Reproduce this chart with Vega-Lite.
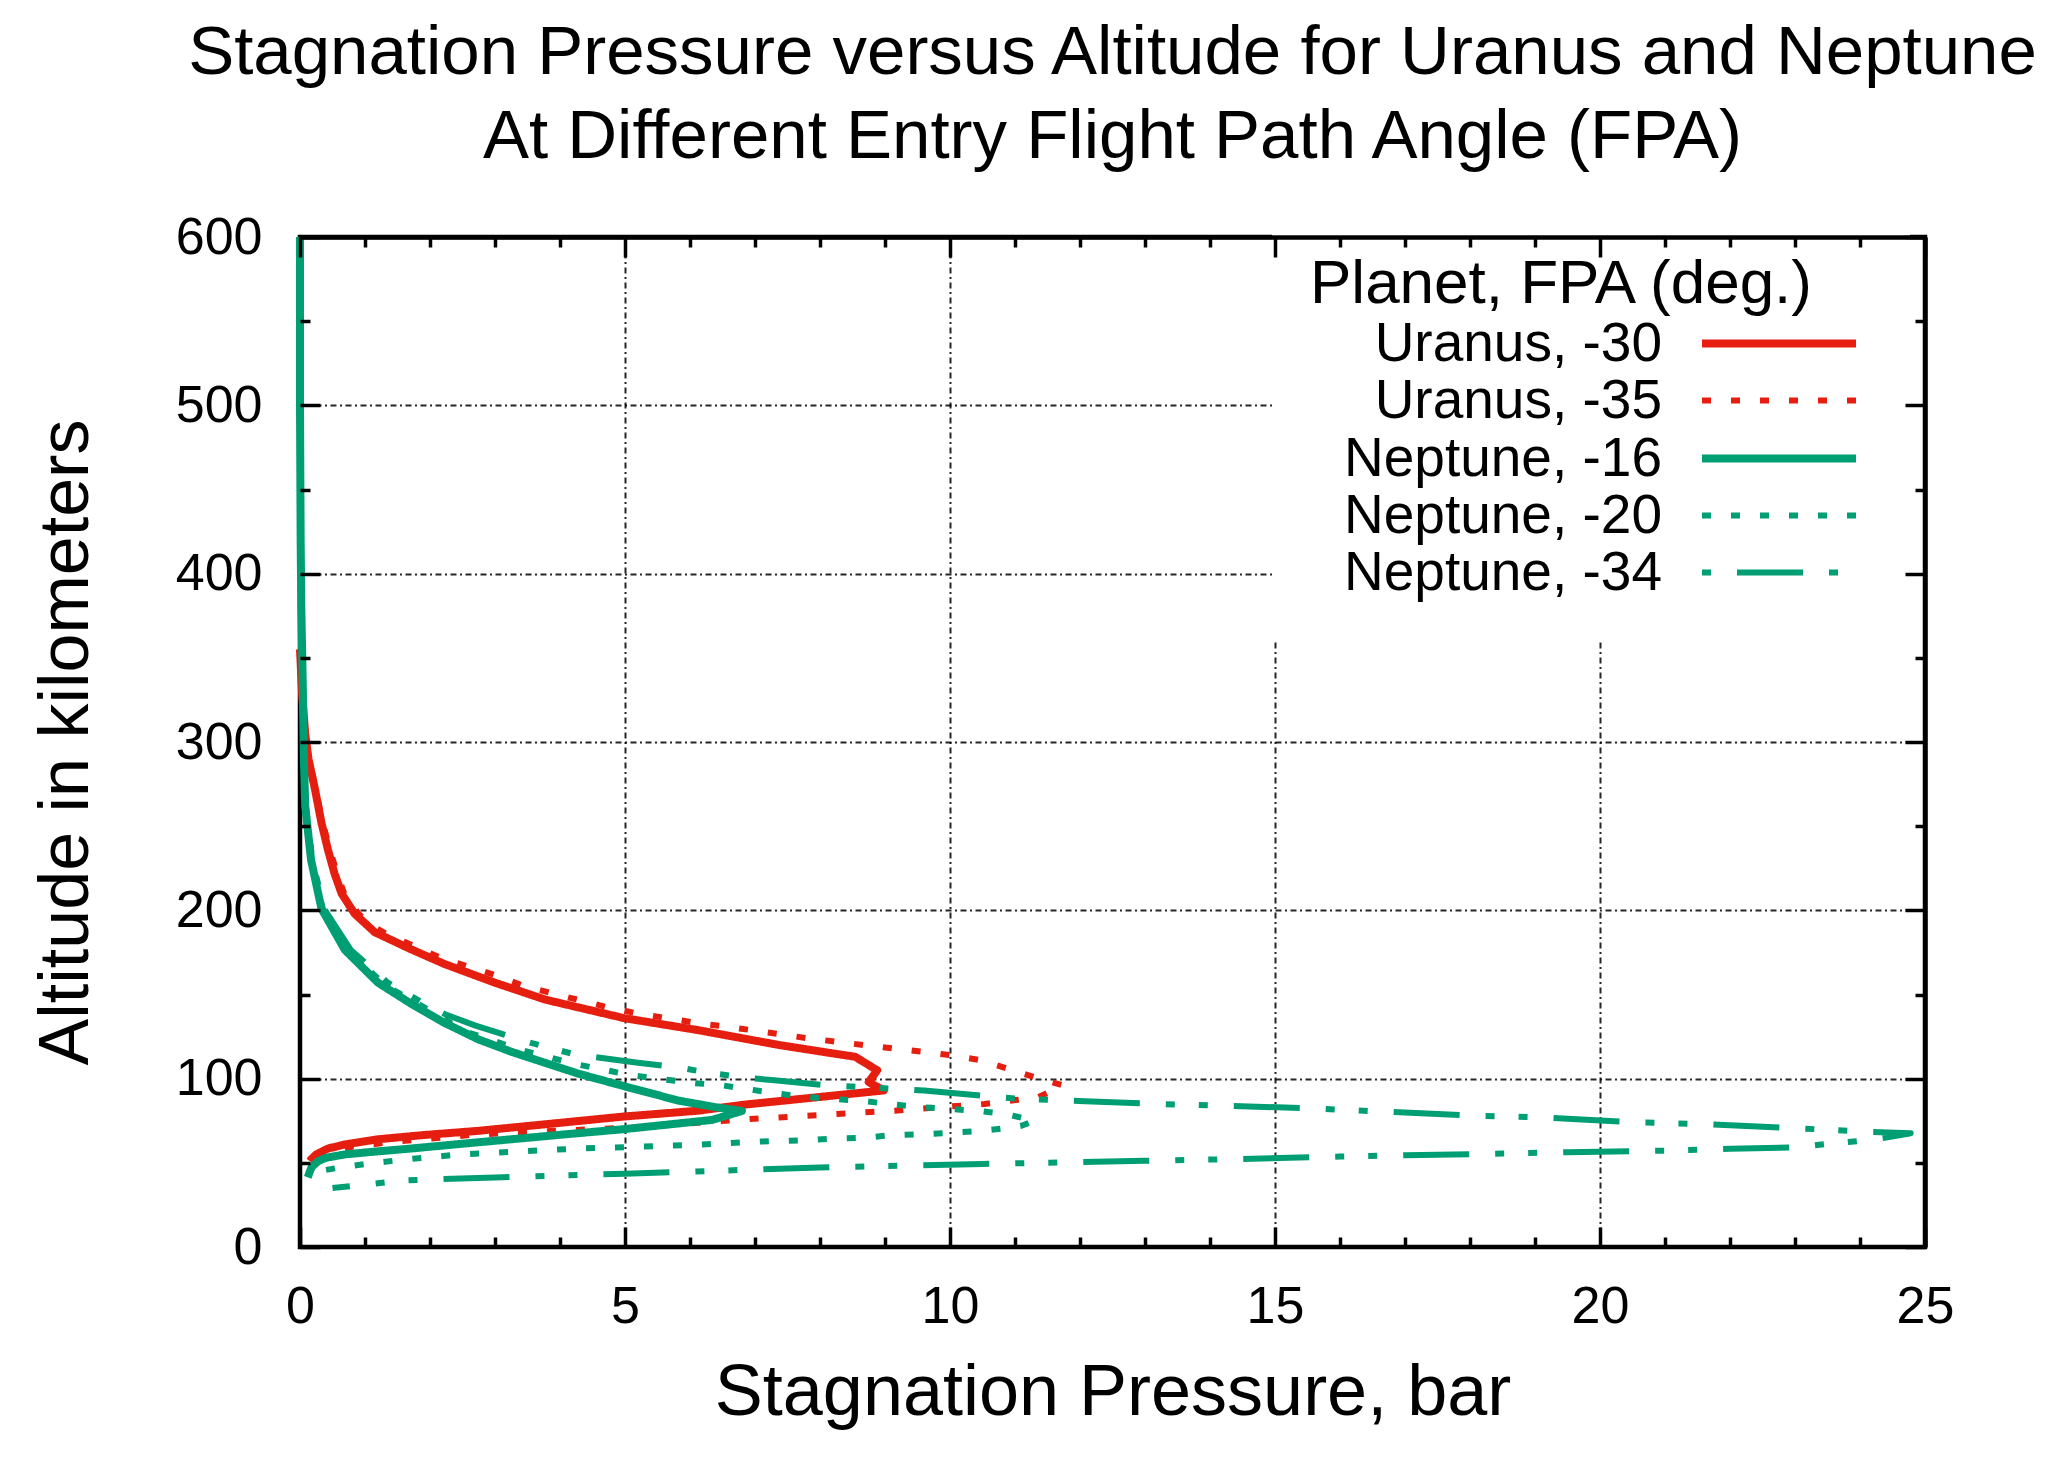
{
  "$schema": "https://vega.github.io/schema/vega-lite/v6.json",
  "width": 1625,
  "height": 1010,
  "autosize": {"type": "none"},
  "padding": {"left": 300, "top": 237, "right": 128, "bottom": 220},
  "background": "white",
  "config": {
    "font": "Liberation Sans",
    "view": {"stroke": "black", "strokeWidth": 4.5},
    "legend": {"zindex": 1}
  },
  "title": {
    "text": ["Stagnation Pressure versus Altitude for Uranus and Neptune", "At Different Entry Flight Path Angle (FPA)"],
    "font": "Liberation Sans",
    "fontSize": 69,
    "fontWeight": "normal",
    "color": "black",
    "anchor": "middle",
    "frame": "group",
    "baseline": "alphabetic",
    "lineHeight": 84,
    "offset": -16
  },
  "data": {
    "values": [
      {"s": "Uranus, -30", "p": 0, "a": 355},
      {"s": "Uranus, -30", "p": 0.03, "a": 330},
      {"s": "Uranus, -30", "p": 0.08, "a": 305},
      {"s": "Uranus, -30", "p": 0.13, "a": 290},
      {"s": "Uranus, -30", "p": 0.23, "a": 272},
      {"s": "Uranus, -30", "p": 0.33, "a": 252},
      {"s": "Uranus, -30", "p": 0.43, "a": 236},
      {"s": "Uranus, -30", "p": 0.53, "a": 222},
      {"s": "Uranus, -30", "p": 0.64, "a": 210},
      {"s": "Uranus, -30", "p": 0.84, "a": 198},
      {"s": "Uranus, -30", "p": 1.15, "a": 187},
      {"s": "Uranus, -30", "p": 1.7, "a": 177},
      {"s": "Uranus, -30", "p": 2.23, "a": 168},
      {"s": "Uranus, -30", "p": 3.0, "a": 157},
      {"s": "Uranus, -30", "p": 3.77, "a": 147},
      {"s": "Uranus, -30", "p": 4.98, "a": 136},
      {"s": "Uranus, -30", "p": 6.13, "a": 128.8},
      {"s": "Uranus, -30", "p": 7.37, "a": 120},
      {"s": "Uranus, -30", "p": 8.2, "a": 115},
      {"s": "Uranus, -30", "p": 8.54, "a": 113},
      {"s": "Uranus, -30", "p": 8.88, "a": 105},
      {"s": "Uranus, -30", "p": 8.75, "a": 98},
      {"s": "Uranus, -30", "p": 8.98, "a": 93},
      {"s": "Uranus, -30", "p": 6.82, "a": 84.5},
      {"s": "Uranus, -30", "p": 6.13, "a": 81},
      {"s": "Uranus, -30", "p": 4.98, "a": 77.5},
      {"s": "Uranus, -30", "p": 3.8, "a": 73},
      {"s": "Uranus, -30", "p": 2.74, "a": 69},
      {"s": "Uranus, -30", "p": 1.9, "a": 66.5},
      {"s": "Uranus, -30", "p": 1.2, "a": 64},
      {"s": "Uranus, -30", "p": 0.7, "a": 61},
      {"s": "Uranus, -30", "p": 0.43, "a": 58.5},
      {"s": "Uranus, -30", "p": 0.25, "a": 55},
      {"s": "Uranus, -30", "p": 0.17, "a": 52},
      {"s": "Uranus, -30", "p": 0.15, "a": 51},

      {"s": "Uranus, -35", "p": 0, "a": 350},
      {"s": "Uranus, -35", "p": 0.03, "a": 330},
      {"s": "Uranus, -35", "p": 0.08, "a": 305},
      {"s": "Uranus, -35", "p": 0.14, "a": 290},
      {"s": "Uranus, -35", "p": 0.24, "a": 272},
      {"s": "Uranus, -35", "p": 0.35, "a": 252},
      {"s": "Uranus, -35", "p": 0.46, "a": 236},
      {"s": "Uranus, -35", "p": 0.57, "a": 222},
      {"s": "Uranus, -35", "p": 0.68, "a": 210},
      {"s": "Uranus, -35", "p": 0.9, "a": 198},
      {"s": "Uranus, -35", "p": 1.1, "a": 191},
      {"s": "Uranus, -35", "p": 1.33, "a": 186},
      {"s": "Uranus, -35", "p": 1.74, "a": 179},
      {"s": "Uranus, -35", "p": 2.15, "a": 172},
      {"s": "Uranus, -35", "p": 2.56, "a": 167},
      {"s": "Uranus, -35", "p": 3.0, "a": 161.6},
      {"s": "Uranus, -35", "p": 3.41, "a": 155.5},
      {"s": "Uranus, -35", "p": 3.85, "a": 151},
      {"s": "Uranus, -35", "p": 4.72, "a": 142.5},
      {"s": "Uranus, -35", "p": 5.16, "a": 139},
      {"s": "Uranus, -35", "p": 6.03, "a": 133.5},
      {"s": "Uranus, -35", "p": 6.92, "a": 129},
      {"s": "Uranus, -35", "p": 7.81, "a": 124},
      {"s": "Uranus, -35", "p": 8.67, "a": 120},
      {"s": "Uranus, -35", "p": 9.57, "a": 116},
      {"s": "Uranus, -35", "p": 10.0, "a": 114},
      {"s": "Uranus, -35", "p": 10.46, "a": 111},
      {"s": "Uranus, -35", "p": 10.88, "a": 106},
      {"s": "Uranus, -35", "p": 11.29, "a": 101},
      {"s": "Uranus, -35", "p": 11.74, "a": 96},
      {"s": "Uranus, -35", "p": 11.36, "a": 89},
      {"s": "Uranus, -35", "p": 10.95, "a": 87},
      {"s": "Uranus, -35", "p": 10.53, "a": 85},
      {"s": "Uranus, -35", "p": 9.15, "a": 81},
      {"s": "Uranus, -35", "p": 8.26, "a": 79},
      {"s": "Uranus, -35", "p": 7.37, "a": 77},
      {"s": "Uranus, -35", "p": 6.92, "a": 76},
      {"s": "Uranus, -35", "p": 6.0, "a": 73.5},
      {"s": "Uranus, -35", "p": 5.13, "a": 71},
      {"s": "Uranus, -35", "p": 3.9, "a": 69},
      {"s": "Uranus, -35", "p": 2.7, "a": 66.8},
      {"s": "Uranus, -35", "p": 1.46, "a": 62.6},
      {"s": "Uranus, -35", "p": 0.8, "a": 59.5},
      {"s": "Uranus, -35", "p": 0.4, "a": 56},
      {"s": "Uranus, -35", "p": 0.2, "a": 53},
      {"s": "Uranus, -35", "p": 0.15, "a": 51},

      {"s": "Neptune, -16", "p": 0, "a": 600},
      {"s": "Neptune, -16", "p": 0.0, "a": 500},
      {"s": "Neptune, -16", "p": 0.01, "a": 420},
      {"s": "Neptune, -16", "p": 0.02, "a": 380},
      {"s": "Neptune, -16", "p": 0.04, "a": 340},
      {"s": "Neptune, -16", "p": 0.06, "a": 290},
      {"s": "Neptune, -16", "p": 0.08, "a": 262},
      {"s": "Neptune, -16", "p": 0.17, "a": 230},
      {"s": "Neptune, -16", "p": 0.33, "a": 201},
      {"s": "Neptune, -16", "p": 0.69, "a": 176.5},
      {"s": "Neptune, -16", "p": 1.2, "a": 157},
      {"s": "Neptune, -16", "p": 1.71, "a": 144.5},
      {"s": "Neptune, -16", "p": 2.23, "a": 133},
      {"s": "Neptune, -16", "p": 2.74, "a": 123.4},
      {"s": "Neptune, -16", "p": 3.25, "a": 116},
      {"s": "Neptune, -16", "p": 3.77, "a": 109.4},
      {"s": "Neptune, -16", "p": 4.28, "a": 103},
      {"s": "Neptune, -16", "p": 4.98, "a": 95.6},
      {"s": "Neptune, -16", "p": 5.82, "a": 87},
      {"s": "Neptune, -16", "p": 6.4, "a": 83},
      {"s": "Neptune, -16", "p": 6.8, "a": 80.8},
      {"s": "Neptune, -16", "p": 6.34, "a": 75.5},
      {"s": "Neptune, -16", "p": 5.6, "a": 72.5},
      {"s": "Neptune, -16", "p": 4.98, "a": 70},
      {"s": "Neptune, -16", "p": 4.1, "a": 67},
      {"s": "Neptune, -16", "p": 3.25, "a": 64},
      {"s": "Neptune, -16", "p": 2.4, "a": 61},
      {"s": "Neptune, -16", "p": 1.71, "a": 58.5},
      {"s": "Neptune, -16", "p": 1.1, "a": 56.5},
      {"s": "Neptune, -16", "p": 0.69, "a": 55},
      {"s": "Neptune, -16", "p": 0.4, "a": 53},
      {"s": "Neptune, -16", "p": 0.28, "a": 51},
      {"s": "Neptune, -16", "p": 0.18, "a": 47.5},
      {"s": "Neptune, -16", "p": 0.15, "a": 44.7},
      {"s": "Neptune, -16", "p": 0.12, "a": 41.4},

      {"s": "Neptune, -20", "p": 0, "a": 600},
      {"s": "Neptune, -20", "p": 0.0, "a": 500},
      {"s": "Neptune, -20", "p": 0.01, "a": 420},
      {"s": "Neptune, -20", "p": 0.02, "a": 380},
      {"s": "Neptune, -20", "p": 0.04, "a": 340},
      {"s": "Neptune, -20", "p": 0.06, "a": 290},
      {"s": "Neptune, -20", "p": 0.085, "a": 262},
      {"s": "Neptune, -20", "p": 0.18, "a": 230},
      {"s": "Neptune, -20", "p": 0.35, "a": 201},
      {"s": "Neptune, -20", "p": 0.72, "a": 176.5},
      {"s": "Neptune, -20", "p": 1.33, "a": 155},
      {"s": "Neptune, -20", "p": 1.77, "a": 145.5},
      {"s": "Neptune, -20", "p": 2.54, "a": 128},
      {"s": "Neptune, -20", "p": 3.41, "a": 117},
      {"s": "Neptune, -20", "p": 4.26, "a": 108.5},
      {"s": "Neptune, -20", "p": 5.1, "a": 102},
      {"s": "Neptune, -20", "p": 6.03, "a": 97.5},
      {"s": "Neptune, -20", "p": 6.5, "a": 96},
      {"s": "Neptune, -20", "p": 6.92, "a": 93.6},
      {"s": "Neptune, -20", "p": 7.37, "a": 91},
      {"s": "Neptune, -20", "p": 7.81, "a": 89},
      {"s": "Neptune, -20", "p": 8.67, "a": 86.7},
      {"s": "Neptune, -20", "p": 9.12, "a": 84.7},
      {"s": "Neptune, -20", "p": 9.57, "a": 83},
      {"s": "Neptune, -20", "p": 10.0, "a": 82},
      {"s": "Neptune, -20", "p": 10.46, "a": 80.8},
      {"s": "Neptune, -20", "p": 10.88, "a": 78.8},
      {"s": "Neptune, -20", "p": 11.3, "a": 75},
      {"s": "Neptune, -20", "p": 11.1, "a": 72},
      {"s": "Neptune, -20", "p": 10.95, "a": 71},
      {"s": "Neptune, -20", "p": 10.5, "a": 69},
      {"s": "Neptune, -20", "p": 10.05, "a": 68},
      {"s": "Neptune, -20", "p": 9.6, "a": 67},
      {"s": "Neptune, -20", "p": 9.1, "a": 66.4},
      {"s": "Neptune, -20", "p": 8.7, "a": 65},
      {"s": "Neptune, -20", "p": 8.25, "a": 64.4},
      {"s": "Neptune, -20", "p": 7.8, "a": 63.5},
      {"s": "Neptune, -20", "p": 7.37, "a": 63},
      {"s": "Neptune, -20", "p": 6.92, "a": 62.4},
      {"s": "Neptune, -20", "p": 6.03, "a": 60.6},
      {"s": "Neptune, -20", "p": 5.16, "a": 59.5},
      {"s": "Neptune, -20", "p": 4.28, "a": 58.5},
      {"s": "Neptune, -20", "p": 3.39, "a": 56.8},
      {"s": "Neptune, -20", "p": 2.46, "a": 55},
      {"s": "Neptune, -20", "p": 1.56, "a": 51.8},
      {"s": "Neptune, -20", "p": 1.12, "a": 49.8},
      {"s": "Neptune, -20", "p": 0.69, "a": 47.7},
      {"s": "Neptune, -20", "p": 0.23, "a": 44.7},
      {"s": "Neptune, -20", "p": 0.15, "a": 41},

      {"s": "Neptune, -34", "p": 0, "a": 600},
      {"s": "Neptune, -34", "p": 0.0, "a": 500},
      {"s": "Neptune, -34", "p": 0.01, "a": 420},
      {"s": "Neptune, -34", "p": 0.02, "a": 380},
      {"s": "Neptune, -34", "p": 0.04, "a": 340},
      {"s": "Neptune, -34", "p": 0.06, "a": 290},
      {"s": "Neptune, -34", "p": 0.09, "a": 262},
      {"s": "Neptune, -34", "p": 0.19, "a": 230},
      {"s": "Neptune, -34", "p": 0.37, "a": 201},
      {"s": "Neptune, -34", "p": 0.78, "a": 176.5},
      {"s": "Neptune, -34", "p": 1.35, "a": 157},
      {"s": "Neptune, -34", "p": 1.85, "a": 146},
      {"s": "Neptune, -34", "p": 2.23, "a": 138.3},
      {"s": "Neptune, -34", "p": 2.7, "a": 131.5},
      {"s": "Neptune, -34", "p": 3.2, "a": 125.4},
      {"s": "Neptune, -34", "p": 3.57, "a": 121.1},
      {"s": "Neptune, -34", "p": 4.2, "a": 114.7},
      {"s": "Neptune, -34", "p": 4.55, "a": 112.7},
      {"s": "Neptune, -34", "p": 5.2, "a": 109.5},
      {"s": "Neptune, -34", "p": 5.9, "a": 106.2},
      {"s": "Neptune, -34", "p": 6.2, "a": 104},
      {"s": "Neptune, -34", "p": 6.75, "a": 101},
      {"s": "Neptune, -34", "p": 7.3, "a": 99},
      {"s": "Neptune, -34", "p": 8.13, "a": 96},
      {"s": "Neptune, -34", "p": 9.12, "a": 94},
      {"s": "Neptune, -34", "p": 9.6, "a": 93},
      {"s": "Neptune, -34", "p": 10.63, "a": 89.4},
      {"s": "Neptune, -34", "p": 11.08, "a": 88},
      {"s": "Neptune, -34", "p": 12.08, "a": 86.6},
      {"s": "Neptune, -34", "p": 13.14, "a": 85},
      {"s": "Neptune, -34", "p": 14.1, "a": 84},
      {"s": "Neptune, -34", "p": 15.5, "a": 82.5},
      {"s": "Neptune, -34", "p": 16.6, "a": 80.5},
      {"s": "Neptune, -34", "p": 18.12, "a": 78},
      {"s": "Neptune, -34", "p": 19.1, "a": 77},
      {"s": "Neptune, -34", "p": 20.6, "a": 74},
      {"s": "Neptune, -34", "p": 21.6, "a": 73},
      {"s": "Neptune, -34", "p": 23.1, "a": 70.4},
      {"s": "Neptune, -34", "p": 24.1, "a": 68.5},
      {"s": "Neptune, -34", "p": 24.78, "a": 67.6},
      {"s": "Neptune, -34", "p": 24.4, "a": 65},
      {"s": "Neptune, -34", "p": 24.0, "a": 63},
      {"s": "Neptune, -34", "p": 23.5, "a": 61.3},
      {"s": "Neptune, -34", "p": 23.0, "a": 59.2},
      {"s": "Neptune, -34", "p": 22.0, "a": 58.3},
      {"s": "Neptune, -34", "p": 21.0, "a": 57.2},
      {"s": "Neptune, -34", "p": 19.5, "a": 56.3},
      {"s": "Neptune, -34", "p": 18.5, "a": 55.5},
      {"s": "Neptune, -34", "p": 17.0, "a": 54.5},
      {"s": "Neptune, -34", "p": 16.0, "a": 53.7},
      {"s": "Neptune, -34", "p": 14.5, "a": 52.3},
      {"s": "Neptune, -34", "p": 13.0, "a": 51.2},
      {"s": "Neptune, -34", "p": 12.0, "a": 50.5},
      {"s": "Neptune, -34", "p": 10.5, "a": 49.3},
      {"s": "Neptune, -34", "p": 9.5, "a": 48.5},
      {"s": "Neptune, -34", "p": 8.0, "a": 47.3},
      {"s": "Neptune, -34", "p": 7.0, "a": 46},
      {"s": "Neptune, -34", "p": 6.0, "a": 44.8},
      {"s": "Neptune, -34", "p": 5.0, "a": 43.5},
      {"s": "Neptune, -34", "p": 4.0, "a": 42.5},
      {"s": "Neptune, -34", "p": 3.0, "a": 41.3},
      {"s": "Neptune, -34", "p": 2.0, "a": 40.2},
      {"s": "Neptune, -34", "p": 1.5, "a": 39.3},
      {"s": "Neptune, -34", "p": 1.05, "a": 37.2},
      {"s": "Neptune, -34", "p": 0.5, "a": 35}
    ]
  },
  "encoding": {
    "color": {
      "field": "s", "type": "nominal", "title": "Planet, FPA (deg.)",
      "scale": {"domain": ["Uranus, -30", "Uranus, -35", "Neptune, -16", "Neptune, -20", "Neptune, -34"],
                "range": ["#e51e10", "#e51e10", "#009e73", "#009e73", "#009e73"]},
      "legend": {
        "orient": "none", "legendX": 972, "legendY": -21, "direction": "vertical",
        "fillColor": "white", "padding": 38, "zindex": 1,
        "titleFont": "Liberation Sans", "titleFontSize": 62, "titleFontWeight": "normal", "titleColor": "black",
        "titlePadding": -2.5, "titleLimit": 2000, "titleAnchor": "start",
        "labelFont": "Liberation Sans", "labelFontSize": 55, "labelColor": "black", "labelAlign": "right", "labelOffset": -147, "labelLimit": 0,
        "symbolType": "M-3,0H3", "symbolSize": 2635, "symbolOffset": 439, "rowPadding": 0
      }
    },
    "strokeDash": {
      "field": "s", "type": "nominal", "title": "Planet, FPA (deg.)",
      "scale": {"domain": ["Uranus, -30", "Uranus, -35", "Neptune, -16", "Neptune, -20", "Neptune, -34"],
                "range": [[1, 0], [9, 20], [1, 0], [9, 20], [9, 26, 66, 26, 9, 24]]}
    },
    "strokeWidth": {
      "field": "s", "type": "nominal", "title": "Planet, FPA (deg.)",
      "scale": {"type": "ordinal", "domain": ["Uranus, -30", "Uranus, -35", "Neptune, -16", "Neptune, -20", "Neptune, -34"],
                "range": [8, 6, 8, 6, 6]}
    },
    "order": {"value": null}
  },
  "layer": [
    {
      "transform": [{"filter": "indexof(datum.s, 'Uranus') === 0"}],
      "mark": {"type": "line", "strokeCap": "butt", "strokeJoin": "round"},
      "encoding": {
        "x": {"field": "p", "type": "quantitative", "scale": {"domain": [0, 25], "nice": false, "zero": false},
              "axis": {"orient": "bottom", "values": [0, 5, 10, 15, 20, 25], "ticks": false, "domain": false,
                       "grid": true, "gridColor": "black", "gridWidth": 2, "gridDash": [6, 3.5, 2, 3.5], "gridOpacity": 0.85,
                       "labelFontSize": 52, "labelColor": "black", "labelPadding": 34, "labelFlush": false, "labelOverlap": false,
                       "title": "Stagnation Pressure, bar", "titleFontSize": 72, "titleFontWeight": "normal", "titleColor": "black", "titlePadding": 25,
                       "zindex": 0}},
        "y": {"field": "a", "type": "quantitative", "scale": {"domain": [0, 600], "nice": false, "zero": false},
              "axis": {"orient": "left", "values": [0, 100, 200, 300, 400, 500, 600], "ticks": false, "domain": false,
                       "grid": true, "gridColor": "black", "gridWidth": 2, "gridDash": [6, 3.5, 2, 3.5], "gridOpacity": 0.85,
                       "labelFontSize": 52, "labelColor": "black", "labelPadding": 38, "labelFlush": false, "labelOverlap": false,
                       "title": "Altitude in kilometers", "titleFontSize": 70, "titleFontWeight": "normal", "titleColor": "black", "titlePadding": 73,
                       "zindex": 0}}
      }
    },
    {
      "transform": [{"filter": "datum.s === 'Neptune, -16'"}],
      "mark": {"type": "line", "strokeCap": "butt", "strokeJoin": "round"},
      "encoding": {
        "x": {"field": "p", "type": "quantitative",
              "axis": {"orient": "bottom", "values": [0,1,2,3,4,5,6,7,8,9,10,11,12,13,14,15,16,17,18,19,20,21,22,23,24,25],
                       "labels": false, "title": null, "domain": false, "grid": false,
                       "tickColor": "black", "tickWidth": 3.5,
                       "tickSize": {"condition": {"test": "datum.value % 5 === 0", "value": -20}, "value": -10},
                       "zindex": 2}},
        "y": {"field": "a", "type": "quantitative",
              "axis": {"orient": "left", "values": [0,50,100,150,200,250,300,350,400,450,500,550,600],
                       "labels": false, "title": null, "domain": false, "grid": false,
                       "tickColor": "black", "tickWidth": 3.5,
                       "tickSize": {"condition": {"test": "datum.value % 100 === 0", "value": -20}, "value": -10},
                       "zindex": 2}}
      }
    },
    {
      "transform": [{"filter": "datum.s === 'Neptune, -20' || datum.s === 'Neptune, -34'"}],
      "mark": {"type": "line", "strokeCap": "butt", "strokeJoin": "round"},
      "encoding": {
        "x": {"field": "p", "type": "quantitative",
              "axis": {"orient": "top", "values": [0,1,2,3,4,5,6,7,8,9,10,11,12,13,14,15,16,17,18,19,20,21,22,23,24,25],
                       "labels": false, "title": null, "domain": true, "domainColor": "black", "domainWidth": 4.5, "grid": false,
                       "tickColor": "black", "tickWidth": 3.5,
                       "tickSize": {"condition": {"test": "datum.value % 5 === 0", "value": -20}, "value": -10},
                       "zindex": 2}},
        "y": {"field": "a", "type": "quantitative",
              "axis": {"orient": "right", "values": [0,50,100,150,200,250,300,350,400,450,500,550,600],
                       "labels": false, "title": null, "domain": true, "domainColor": "black", "domainWidth": 4.5, "grid": false,
                       "tickColor": "black", "tickWidth": 3.5,
                       "tickSize": {"condition": {"test": "datum.value % 100 === 0", "value": -20}, "value": -10},
                       "zindex": 2}}
      }
    }
  ],
  "resolve": {"axis": {"x": "independent", "y": "independent"}}
}
